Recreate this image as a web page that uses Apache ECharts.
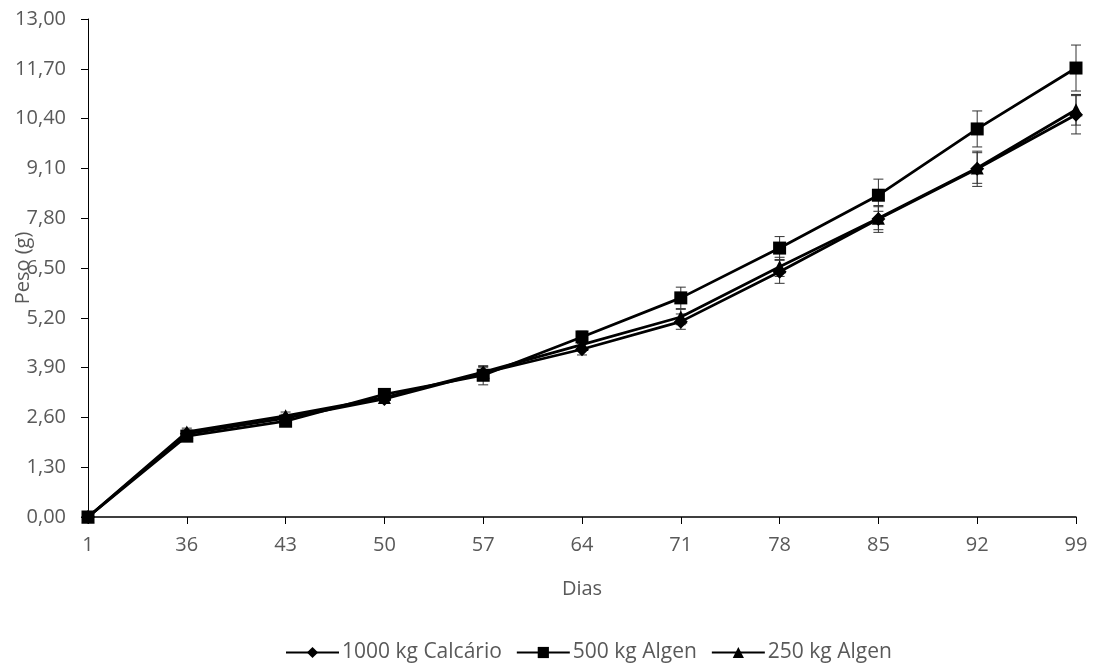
<!DOCTYPE html>
<html>
<head>
<meta charset="utf-8">
<script src="https://cdn.jsdelivr.net/npm/echarts@6/dist/echarts.min.js"></script>
<style>
  html, body { margin: 0; padding: 0; background: #fff; }
  #chart { width: 1094px; height: 668px; }
</style>
</head>
<body>
<div id="chart"></div>
<script>
// dias de avaliação
const dias = ['1', '36', '43', '50', '57', '64', '71', '78', '85', '92', '99'];

// peso médio (g)
const calcario1000 = [0, 2.17, 2.58, 3.08, 3.76, 4.38, 5.1, 6.4, 7.78, 9.09, 10.5];
const algen500 = [0, 2.11, 2.5, 3.2, 3.7, 4.7, 5.72, 7.02, 8.4, 10.13, 11.72];
const algen250 = [0, 2.22, 2.64, 3.12, 3.78, 4.5, 5.22, 6.53, 7.8, 9.11, 10.63];

// desvio (barras de erro)
const errCalcario1000 = [0.05, 0.1, 0.1, 0.1, 0.15, 0.15, 0.2, 0.3, 0.35, 0.46, 0.5];
const errAlgen500 = [0.05, 0.1, 0.1, 0.1, 0.25, 0.15, 0.28, 0.3, 0.42, 0.47, 0.6];
const errAlgen250 = [0.05, 0.1, 0.1, 0.1, 0.15, 0.15, 0.2, 0.25, 0.3, 0.4, 0.4];

const yTicks = { min: 0, max: 13, interval: 1.3 };

const chart = echarts.init(document.getElementById('chart'));
const fontFam = '"Open Sans", "Liberation Sans", sans-serif';
const grey = '#595959';

// barras de erro desenhadas com série custom
const errorData = (vals, errs) => vals.map((v, i) => [i, v - errs[i], v + errs[i]]);
const renderError = (params, api) => {
  const lo = api.coord([api.value(0), api.value(1)]);
  const hi = api.coord([api.value(0), api.value(2)]);
  const w = 5;
  const style = { stroke: '#333', lineWidth: 1 };
  return {
    type: 'group',
    children: [
      { type: 'line', shape: { x1: hi[0], y1: hi[1], x2: lo[0], y2: lo[1] }, style },
      { type: 'line', shape: { x1: hi[0] - w, y1: hi[1], x2: hi[0] + w, y2: hi[1] }, style },
      { type: 'line', shape: { x1: lo[0] - w, y1: lo[1], x2: lo[0] + w, y2: lo[1] }, style }
    ]
  };
};

const lineSeries = (name, data, symbol, size) => ({
  name: name,
  type: 'line',
  data: data,
  symbol: symbol,
  symbolSize: size,
  color: '#000',
  lineStyle: { color: '#000', width: 2.75 },
  itemStyle: { color: '#000' },
  z: 3
});

const option = {
  animation: false,
  grid: { left: 88, right: 18, top: 19, bottom: 151, containLabel: false, outerBoundsMode: 'none' },
  xAxis: {
    type: 'category',
    data: dias,
    boundaryGap: false,
    name: 'Dias',
    nameLocation: 'middle',
    nameGap: 62,
    nameMoveOverlap: false,
    nameTextStyle: { color: grey, fontSize: 20, fontFamily: fontFam },
    axisLine: { lineStyle: { color: '#000', width: 1.5 } },
    axisTick: { show: true, alignWithLabel: true, length: 7, lineStyle: { color: '#000' } },
    axisLabel: { color: grey, fontSize: 20, fontFamily: fontFam, margin: 18 },
    splitLine: { show: false }
  },
  yAxis: {
    type: 'value',
    min: yTicks.min,
    max: yTicks.max,
    interval: yTicks.interval,
    name: 'Peso (g)',
    nameLocation: 'middle',
    nameGap: 55,
    nameRotate: 90,
    nameMoveOverlap: false,
    nameTextStyle: { color: grey, fontSize: 20, fontFamily: fontFam },
    axisLine: { show: true, lineStyle: { color: '#000', width: 1 } },
    axisTick: { show: true, length: 7, lineStyle: { color: '#000' } },
    axisLabel: {
      color: grey, fontSize: 20, fontFamily: fontFam, margin: 22,
      formatter: v => v.toFixed(2).replace('.', ',')
    },
    splitLine: { show: false }
  },
  legend: {
    bottom: 0,
    left: 280,
    itemWidth: 53,
    itemHeight: 14,
    itemGap: 14,
    textStyle: { color: grey, fontSize: 21, fontFamily: fontFam, padding: [0, 0, 0, -2] },
    data: ['1000 kg Calcário', '500 kg Algen', '250 kg Algen']
  },
  series: [
    { type: 'custom', renderItem: renderError, data: errorData(calcario1000, errCalcario1000), z: 2, silent: true },
    { type: 'custom', renderItem: renderError, data: errorData(algen500, errAlgen500), z: 2, silent: true },
    { type: 'custom', renderItem: renderError, data: errorData(algen250, errAlgen250), z: 2, silent: true },
    lineSeries('1000 kg Calcário', calcario1000, 'diamond', 14),
    lineSeries('500 kg Algen', algen500, 'rect', 13),
    lineSeries('250 kg Algen', algen250, 'triangle', 13)
  ]
};

chart.setOption(option);
</script>
</body>
</html>
